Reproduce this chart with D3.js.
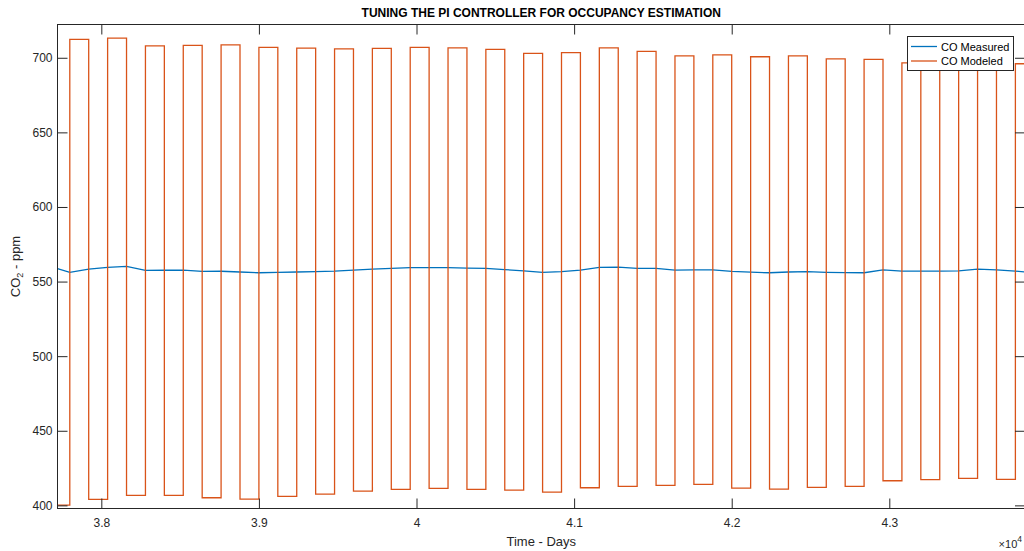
<!DOCTYPE html>
<html>
<head>
<meta charset="utf-8">
<script src="https://cdn.jsdelivr.net/npm/d3@7"></script>
<style>
  body { margin: 0; background: #fff; }
  svg { display: block; font-family: "Liberation Sans", Arial, sans-serif; }
</style>
</head>
<body>
<div id="chart"></div>
<script>
// modeled CO2: square wave, rise / fall times and levels
var riseDays = [37800, 38040, 38280, 38520, 38760, 39000, 39240, 39480, 39720, 39960,
                40200, 40440, 40680, 40920, 41160, 41400, 41640, 41880, 42120, 42360,
                42600, 42840, 43080, 43320, 43560, 43800];
var fallDays = [37920, 38160, 38400, 38640, 38880, 39120, 39360, 39600, 39840, 40080,
                40320, 40560, 40800, 41040, 41280, 41520, 41760, 42000, 42240, 42480,
                42720, 42960, 43200, 43440, 43680];
var highVals = [712.3, 713.2, 708.0, 708.3, 708.6, 707.0, 706.5, 706.0, 706.3, 707.0,
                706.7, 705.6, 702.9, 703.4, 706.7, 704.3, 701.3, 702.0, 700.7, 701.3,
                699.3, 698.9, 696.6, 696.0, 695.5, 696.0];
// first entry is the level before the first rise
var lowVals = [400.2, 404.0, 406.7, 406.7, 405.1, 404.2, 406.0, 407.6, 409.6, 410.7,
               411.4, 410.7, 410.2, 408.9, 411.8, 412.7, 413.4, 414.1, 411.6, 410.9,
               412.0, 412.7, 416.5, 417.2, 418.1, 417.4];

// measured CO2
var measDays = [37722, 37800, 37920, 38040, 38160, 38280, 38400, 38520, 38640, 38760,
                38880, 39000, 39120, 39240, 39360, 39480, 39600, 39720, 39840, 39960,
                40080, 40200, 40320, 40440, 40560, 40680, 40800, 40920, 41040, 41160,
                41280, 41400, 41520, 41640, 41760, 41880, 42000, 42120, 42240, 42360,
                42480, 42600, 42720, 42840, 42960, 43080, 43200, 43320, 43440, 43560,
                43680, 43800, 43861];
var measVals = [558.6, 556.2, 558.4, 559.5, 560.2, 557.5, 557.6, 557.7, 556.8, 556.9,
                556.4, 555.9, 556.1, 556.4, 556.7, 557.0, 557.7, 558.4, 558.9, 559.3,
                559.3, 559.3, 559.0, 558.8, 558.0, 557.2, 556.2, 556.6, 557.7, 559.5,
                559.7, 558.8, 558.8, 557.7, 557.8, 557.9, 556.8, 556.3, 555.9, 556.4,
                556.6, 556.2, 556.0, 555.9, 557.9, 557.0, 557.0, 557.0, 557.2, 558.4,
                557.9, 557.0, 556.4];

var xTicks = [38000, 39000, 40000, 41000, 42000, 43000];
var yTicks = [400, 450, 500, 550, 600, 650, 700];
var xLimits = [37722, 43861];
var yLimits = [397.9, 722.3];

var seriesNames = ["CO Measured", "CO Modeled"];
var colors = ["#0072BD", "#D95319"];

var W = 1024, H = 551;
var margin = {left: 57.5, right: 1025, top: 24.5, bottom: 508.5};
var axisColor = "#262626";

var svg = d3.select("#chart").append("svg")
    .attr("width", W).attr("height", H);

var xScale = d3.scaleLinear().domain(xLimits).range([margin.left, margin.right]);
var yScale = d3.scaleLinear().domain(yLimits).range([margin.bottom, margin.top]);

svg.append("defs").append("clipPath").attr("id", "clip")
  .append("rect")
    .attr("x", margin.left).attr("y", margin.top)
    .attr("width", margin.right - margin.left).attr("height", margin.bottom - margin.top);

// build the step path of the modeled series
var modeled = [];
modeled.push([xLimits[0], lowVals[0]]);
for (var i = 0; i < riseDays.length; i++) {
    modeled.push([riseDays[i], lowVals[i]]);
    modeled.push([riseDays[i], highVals[i]]);
    if (i < fallDays.length) {
        modeled.push([fallDays[i], highVals[i]]);
        modeled.push([fallDays[i], lowVals[i + 1]]);
    } else {
        modeled.push([xLimits[1], highVals[i]]);
    }
}
var measured = measDays.map(function(d, i) { return [d, measVals[i]]; });

var line = d3.line()
    .x(function(d) { return xScale(d[0]); })
    .y(function(d) { return yScale(d[1]); });

var plot = svg.append("g").attr("clip-path", "url(#clip)");

plot.append("path")
    .datum(measured)
    .attr("d", line)
    .attr("fill", "none")
    .attr("stroke", colors[0])
    .attr("stroke-width", 1.3);

plot.append("path")
    .datum(modeled)
    .attr("d", line)
    .attr("fill", "none")
    .attr("stroke", colors[1])
    .attr("stroke-width", 1.3);

// axes (box on, ticks inside on every side)
var tickLen = 10;
var xAxisB = d3.axisBottom(xScale).tickValues(xTicks).tickSizeInner(-tickLen).tickSizeOuter(0)
    .tickPadding(10)
    .tickFormat(function(d) { return d3.format("~g")(d / 10000); });
var xAxisT = d3.axisTop(xScale).tickValues(xTicks).tickSizeInner(-tickLen).tickSizeOuter(0)
    .tickFormat("");
var yAxisL = d3.axisLeft(yScale).tickValues(yTicks).tickSizeInner(-tickLen).tickSizeOuter(0)
    .tickPadding(5);
var yAxisR = d3.axisRight(yScale).tickValues(yTicks).tickSizeInner(-tickLen).tickSizeOuter(0)
    .tickFormat("");

function styleAxis(g) {
    g.select(".domain").remove();
    g.selectAll("line").attr("stroke", axisColor);
    g.selectAll("text").attr("fill", axisColor).attr("font-size", "12px")
        .attr("font-family", "Liberation Sans, Arial, sans-serif");
}

svg.append("g").attr("transform", "translate(0," + margin.bottom + ")").call(xAxisB).call(styleAxis);
svg.append("g").attr("transform", "translate(0," + margin.top + ")").call(xAxisT).call(styleAxis);
svg.append("g").attr("transform", "translate(" + margin.left + ",0)").call(yAxisL).call(styleAxis);
svg.append("g").attr("transform", "translate(" + margin.right + ",0)").call(yAxisR).call(styleAxis);

svg.append("rect")
    .attr("x", margin.left).attr("y", margin.top)
    .attr("width", margin.right - margin.left).attr("height", margin.bottom - margin.top)
    .attr("fill", "none")
    .attr("stroke", axisColor)
    .attr("stroke-width", 1);

// exponent label
var expo = svg.append("text")
    .attr("x", 1022).attr("y", 548)
    .attr("text-anchor", "end")
    .attr("font-size", "11px")
    .attr("fill", axisColor);
expo.append("tspan").text("\u00d710");
expo.append("tspan").attr("dy", -6).attr("font-size", "8.5px").text("4");

// title
svg.append("text")
    .attr("x", (margin.left + margin.right) / 2)
    .attr("y", 17)
    .attr("text-anchor", "middle")
    .attr("font-weight", "bold")
    .attr("font-size", "12px")
    .attr("fill", "#000")
    .text("TUNING THE PI CONTROLLER FOR OCCUPANCY ESTIMATION");

// x label
svg.append("text")
    .attr("x", (margin.left + margin.right) / 2)
    .attr("y", 546)
    .attr("text-anchor", "middle")
    .attr("font-size", "13px")
    .attr("fill", axisColor)
    .text("Time - Days");

// y label
var yl = svg.append("text")
    .attr("transform", "translate(20," + ((margin.top + margin.bottom) / 2) + ") rotate(-90)")
    .attr("text-anchor", "middle")
    .attr("font-size", "13px")
    .attr("fill", axisColor);
yl.append("tspan").text("CO");
yl.append("tspan").attr("dy", 3).attr("font-size", "9px").text("2");
yl.append("tspan").attr("dy", -3).text(" - ppm");

// legend
var lg = svg.append("g");
lg.append("rect")
    .attr("x", 907.5).attr("y", 36.5)
    .attr("width", 106).attr("height", 34)
    .attr("fill", "#fff")
    .attr("stroke", axisColor)
    .attr("stroke-width", 1);
seriesNames.forEach(function(name, i) {
    var yy = 46.5 + i * 14.5;
    lg.append("line")
        .attr("x1", 911).attr("x2", 937)
        .attr("y1", yy).attr("y2", yy)
        .attr("stroke", colors[i]).attr("stroke-width", 1.3);
    lg.append("text")
        .attr("x", 941).attr("y", yy + 4)
        .attr("font-size", "11px")
        .attr("fill", "#000")
        .text(name);
});
</script>
</body>
</html>
